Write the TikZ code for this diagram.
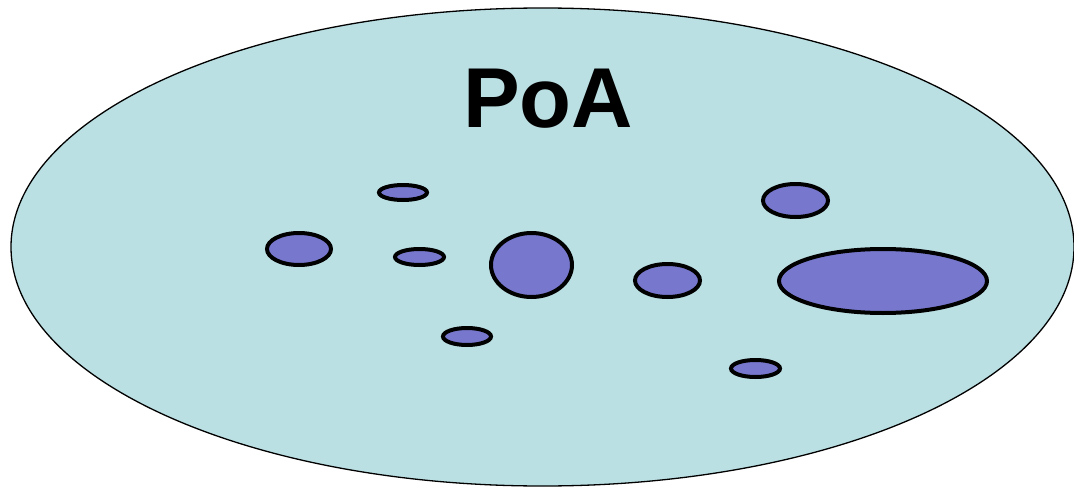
\documentclass[tikz,border=0pt]{standalone}
\usepackage{fontspec}
\setmainfont{Liberation Sans}
\usetikzlibrary{shapes.geometric}
\definecolor{poabg}{RGB}{187,224,227}
\definecolor{blobfill}{RGB}{119,119,206}
\tikzset{
  region/.style={ellipse, draw=black, line width=1.3pt, fill=poabg, inner sep=0pt},
  blob/.style={ellipse, draw=black, line width=4pt, fill=blobfill, inner sep=0pt},
}
\begin{document}
\begin{tikzpicture}[x=1pt,y=-1pt]
\useasboundingbox (0,0) rectangle (1074,487);
% outer region
\node[region, minimum width=1063pt, minimum height=478pt] (poa) at (542.5,247) {};
\node[font=\fontsize{85}{90}\selectfont\bfseries, anchor=base] (title) at (548,128) {PoA};
% particles inside the region
\node[blob, minimum width=48pt, minimum height=15pt] (b1) at (403,192.5) {};
\node[blob, minimum width=64pt, minimum height=32pt] (b2) at (299,249) {};
\node[blob, minimum width=49pt, minimum height=16pt] (b3) at (419.5,257) {};
\node[blob, minimum width=81pt, minimum height=64pt] (b4) at (531.5,265) {};
\node[blob, minimum width=48pt, minimum height=17pt] (b5) at (467,336.5) {};
\node[blob, minimum width=65pt, minimum height=33pt] (b6) at (795.5,200.5) {};
\node[blob, minimum width=65pt, minimum height=33pt] (b7) at (667.5,280.5) {};
\node[blob, minimum width=208pt, minimum height=64pt] (b8) at (883,281) {};
\node[blob, minimum width=49pt, minimum height=17pt] (b9) at (755.5,368.5) {};
\end{tikzpicture}
\end{document}
